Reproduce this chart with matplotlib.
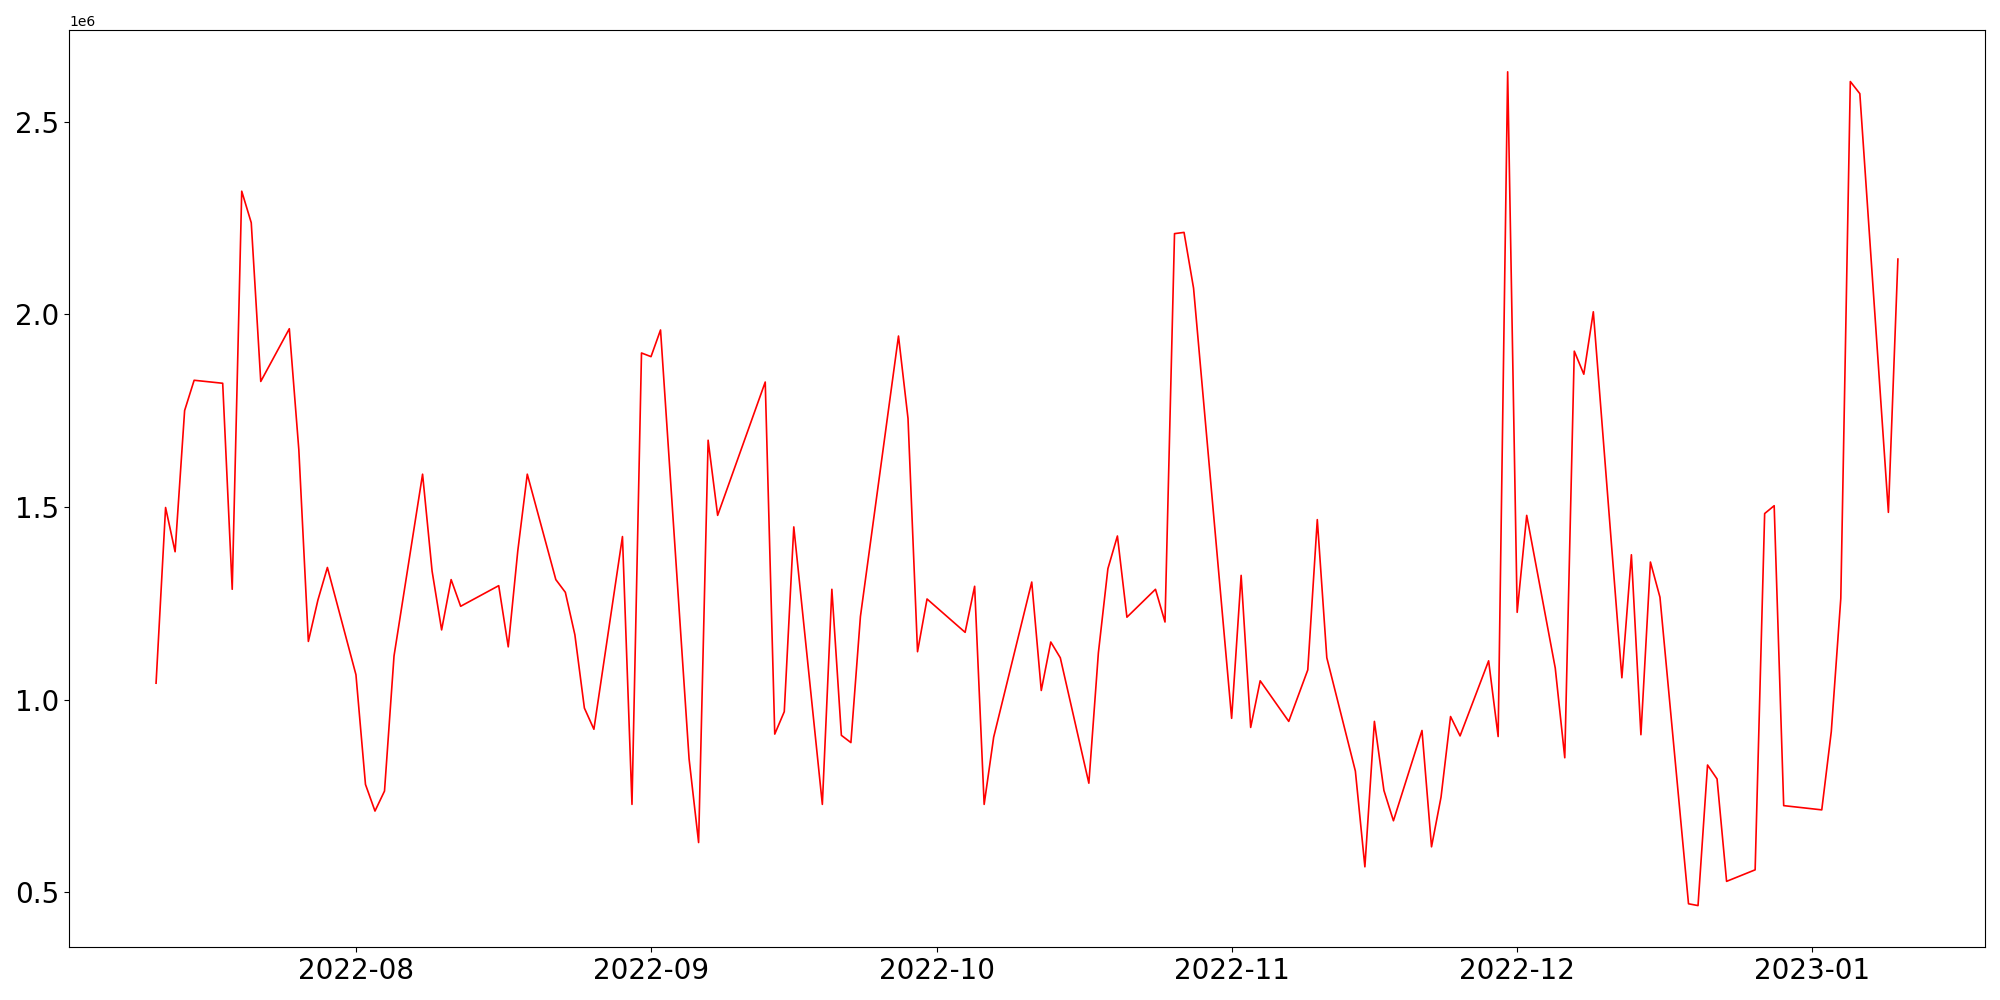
import matplotlib
matplotlib.use("Agg")
import matplotlib.pyplot as plt
import pandas as pd

dates = [
    "2022-07-11", "2022-07-12", "2022-07-13", "2022-07-14", "2022-07-15",
    "2022-07-18", "2022-07-19", "2022-07-20", "2022-07-21", "2022-07-22",
    "2022-07-25", "2022-07-26", "2022-07-27", "2022-07-28", "2022-07-29",
    "2022-08-01", "2022-08-02", "2022-08-03", "2022-08-04", "2022-08-05",
    "2022-08-08", "2022-08-09", "2022-08-10", "2022-08-11", "2022-08-12",
    "2022-08-16", "2022-08-17", "2022-08-18", "2022-08-19",
    "2022-08-22", "2022-08-23", "2022-08-24", "2022-08-25", "2022-08-26",
    "2022-08-29", "2022-08-30", "2022-08-31", "2022-09-01", "2022-09-02",
    "2022-09-05", "2022-09-06", "2022-09-07", "2022-09-08",
    "2022-09-13", "2022-09-14", "2022-09-15", "2022-09-16",
    "2022-09-19", "2022-09-20", "2022-09-21", "2022-09-22", "2022-09-23",
    "2022-09-27", "2022-09-28", "2022-09-29", "2022-09-30",
    "2022-10-04", "2022-10-05", "2022-10-06", "2022-10-07",
    "2022-10-11", "2022-10-12", "2022-10-13", "2022-10-14",
    "2022-10-17", "2022-10-18", "2022-10-19", "2022-10-20", "2022-10-21",
    "2022-10-24", "2022-10-25", "2022-10-26", "2022-10-27", "2022-10-28",
    "2022-11-01", "2022-11-02", "2022-11-03", "2022-11-04",
    "2022-11-07", "2022-11-09", "2022-11-10", "2022-11-11",
    "2022-11-14", "2022-11-15", "2022-11-16", "2022-11-17", "2022-11-18",
    "2022-11-21", "2022-11-22", "2022-11-23", "2022-11-24", "2022-11-25",
    "2022-11-28", "2022-11-29", "2022-11-30", "2022-12-01", "2022-12-02",
    "2022-12-05", "2022-12-06", "2022-12-07", "2022-12-08", "2022-12-09",
    "2022-12-12", "2022-12-13", "2022-12-14", "2022-12-15", "2022-12-16",
    "2022-12-19", "2022-12-20", "2022-12-21", "2022-12-22", "2022-12-23",
    "2022-12-26", "2022-12-27", "2022-12-28", "2022-12-29",
    "2023-01-02", "2023-01-03", "2023-01-04", "2023-01-05", "2023-01-06",
    "2023-01-09", "2023-01-10",
]

values = [
    1042500, 1498400, 1383600, 1750000, 1828600,
    1820800, 1286200, 2319200, 2237400, 1825500,
    1962300, 1647800, 1150900, 1257900, 1342800,
    1064500, 779900, 710700, 762600, 1113200,
    1584900, 1333300, 1180800, 1311300, 1242100,
    1295600, 1136800, 1385200, 1584900,
    1311300, 1278300, 1168200, 978000, 923000,
    1423000, 728000, 1899400, 1889900, 1959100,
    845900, 629000, 1673000, 1478000,
    1824000, 910400, 968600, 1448100,
    728000, 1286200, 907200, 888400, 1215400,
    1943400, 1729600, 1124200, 1261000,
    1174500, 1294000, 728000, 902500,
    1305000, 1023600, 1149400, 1108500,
    783000, 1121000, 1339600, 1424500, 1213800,
    1286200, 1201300, 2209100, 2212300, 2067600,
    951300, 1322300, 927700, 1048700,
    943400, 1077000, 1467000, 1108500,
    814500, 566000, 943400, 764200, 685500,
    919800, 617900, 746900, 956000, 905700,
    1100600, 904100, 2628900, 1226400, 1478000,
    1081800, 849000, 1904100, 1844300, 2006300,
    1056600, 1375800, 908800, 1356900, 1265700,
    470100, 465400, 830200, 794000, 528300,
    558200, 1482700, 1503100, 724800,
    713800, 916700, 1262600, 2603800, 2572300,
    1485800, 2143100,
]

x = pd.to_datetime(dates)

fig, ax = plt.subplots(figsize=(20, 10), dpi=100)
ax.plot(x, values, color="red", linewidth=1.2)
ax.tick_params(axis="both", labelsize=20)
fig.tight_layout()
fig.savefig("out.png", dpi=100)
